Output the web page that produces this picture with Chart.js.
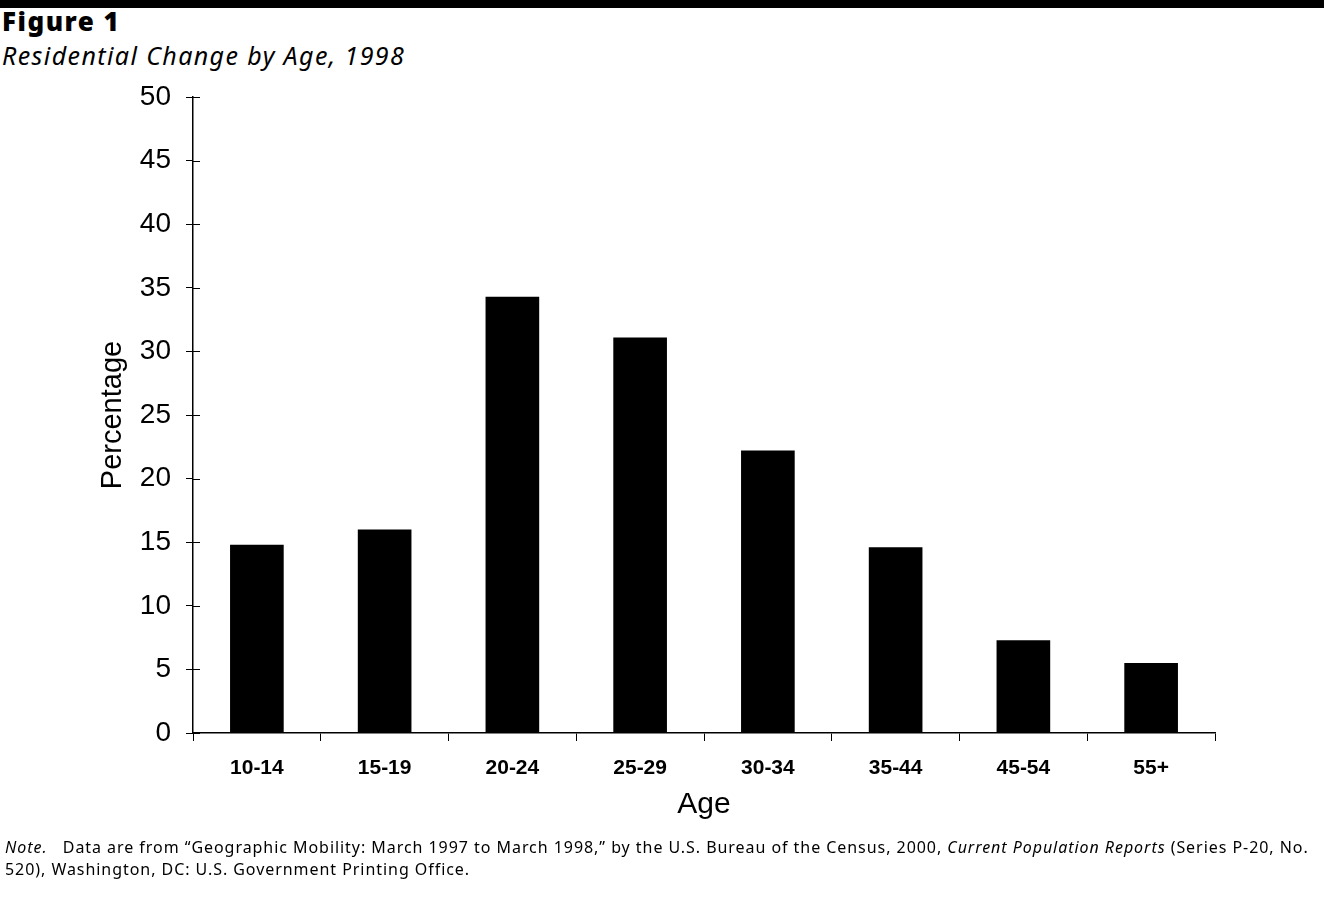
<!DOCTYPE html>
<html>
<head>
<meta charset="utf-8">
<script src="https://cdn.jsdelivr.net/npm/chart.js@4"></script>
<style>
  body { margin: 0; background: #fff; width: 1324px; height: 898px; position: relative; overflow: hidden; }
  .rule { position: absolute; left: 0; top: 0; width: 1324px; height: 8px; background: #000; }
  .fig { position: absolute; left: 2px; top: 3px; font: 900 26px "Noto Sans", sans-serif; letter-spacing: 1.5px; }
  .sub { position: absolute; left: 2px; top: 38px; font: italic 25px "Noto Sans", sans-serif; letter-spacing: 1.4px; }
  .note { position: absolute; left: 5px; top: 836px; font: 16px "Noto Sans", sans-serif; letter-spacing: 0.95px; line-height: 22px; white-space: nowrap; }
  #wrap { position: absolute; left: 0; top: 0; width: 1324px; height: 898px; }
</style>
</head>
<body>
<div class="rule"></div>
<div class="fig">Figure 1</div>
<div class="sub">Residential Change by Age, 1998</div>
<div id="wrap"><canvas id="chart"></canvas></div>
<div class="note"><i>Note.</i>&nbsp;&nbsp; Data are from “Geographic Mobility: March 1997 to March 1998,” by the U.S. Bureau of the Census, 2000, <i>Current Population Reports</i> (Series P-20, No.<br>520), Washington, DC: U.S. Government Printing Office.</div>
<script>
const ages = ['10-14', '15-19', '20-24', '25-29', '30-34', '35-44', '45-54', '55+'];
const percents = [14.8, 16.0, 34.3, 31.1, 22.2, 14.6, 7.3, 5.5];
const yMin = 0, yMax = 50, yStep = 5;

const fontFamily = 'Liberation Sans, Arial, sans-serif';

// small tick marks on the inner side of the y axis, so they cross it
const innerTicks = {
    id: 'innerTicks',
    afterDraw(chart) {
        const y = chart.scales.y;
        const ctx = chart.ctx;
        ctx.save();
        ctx.strokeStyle = '#000';
        ctx.lineWidth = 1;
        y.ticks.forEach(t => {
            const py = Math.round(y.getPixelForValue(t.value)) + 0.5;
            ctx.beginPath();
            ctx.moveTo(y.right, py);
            ctx.lineTo(y.right + 7, py);
            ctx.stroke();
        });
        ctx.restore();
    }
};

new Chart(document.getElementById('chart'), {
    type: 'bar',
    data: {
        labels: ages,
        datasets: [{
            data: percents,
            backgroundColor: '#000',
            barPercentage: 0.42,
            categoryPercentage: 1
        }]
    },
    options: {
        responsive: true,
        maintainAspectRatio: false,
        animation: false,
        layout: { padding: { left: 0, top: 97, right: 109, bottom: 75 } },
        plugins: { legend: { display: false }, tooltip: { enabled: false } },
        scales: {
            x: {
                grid: { display: true, offset: true, drawOnChartArea: false, tickLength: 8, color: '#000' },
                border: { color: '#000', width: 1.5 },
                ticks: { color: '#000', font: { family: fontFamily, weight: 'bold', size: 21 }, padding: 15 },
                title: { display: true, text: 'Age', color: '#000', font: { family: fontFamily, size: 30 }, padding: { top: 4, bottom: 0 } },
                afterFit: s => { s.height = 90; }
            },
            y: {
                min: yMin, max: yMax,
                grid: { display: true, drawOnChartArea: false, tickLength: 7, color: '#000' },
                border: { color: '#000', width: 1.5 },
                ticks: { stepSize: yStep, color: '#000', font: { family: fontFamily, size: 28 }, padding: 15 },
                title: { display: true, text: 'Percentage', color: '#000', font: { family: fontFamily, size: 29 }, padding: { top: 96, bottom: 0 } },
                afterFit: s => { s.width = 193; }
            }
        }
    },
    plugins: [innerTicks]
});
</script>
</body>
</html>
